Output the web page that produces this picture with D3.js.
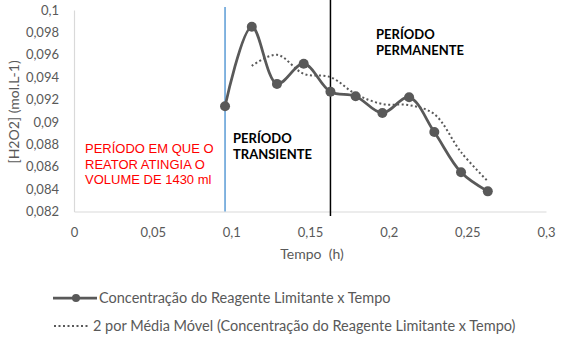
<!DOCTYPE html>
<html><head><meta charset="utf-8">
<script src="https://cdn.jsdelivr.net/npm/d3@7"></script>
<style>
html,body{margin:0;padding:0;background:#fff;}
svg{display:block;}
</style></head>
<body>
<script>
// ---- data ----
const times = [0.096, 0.113, 0.129, 0.146, 0.163, 0.179, 0.196, 0.213, 0.229, 0.246, 0.263];
const conc  = [0.0914, 0.0985, 0.0934, 0.0952, 0.0927, 0.0923, 0.0908, 0.0922, 0.0891, 0.0855, 0.0838];
const maTimes = [0.113, 0.129, 0.146, 0.163, 0.179, 0.196, 0.213, 0.229, 0.246, 0.263];
const maVals  = [0.0950, 0.0960, 0.0943, 0.0940, 0.0925, 0.0916, 0.0915, 0.0907, 0.0873, 0.0847];
const xTicks = [0, 0.05, 0.1, 0.15, 0.2, 0.25, 0.3];
const yTicks = [0.082, 0.084, 0.086, 0.088, 0.09, 0.092, 0.094, 0.096, 0.098, 0.1];
const fillTime = 0.096;      // blue marker line
const steadyTime = 0.163;    // black marker line
const seriesNames = ["Concentração do Reagente Limitante x Tempo",
                     "2 por Média Móvel (Concentração do Reagente Limitante x Tempo)"];
const redLabel = ["PERÍODO EM QUE O", "REATOR ATINGIA O", "VOLUME DE 1430 ml"];
const transLabel = ["PERÍODO", "TRANSIENTE"];
const permLabel = ["PERÍODO", "PERMANENTE"];

// ---- layout ----
const W = 573, H = 361;
const x = d3.scaleLinear().domain([0, 0.3]).range([74, 546]);
const y = d3.scaleLinear().domain([0.082, 0.1]).range([211.5, 10]);
const fmt = d => d3.format("")(+d.toFixed(3)).replace(".", ",");
const grey = "#595959";
const font = "Lato, 'Open Sans', sans-serif";

const svg = d3.select("body").append("svg").attr("width", W).attr("height", H);

// axes
const xAxis = svg.append("g").attr("transform", `translate(0,${y(0.082)})`)
  .call(d3.axisBottom(x).tickValues(xTicks).tickSize(0).tickPadding(16).tickFormat(fmt));
xAxis.select(".domain").attr("stroke", "#d9d9d9").attr("stroke-width", 1.2);
xAxis.selectAll("text").attr("fill", grey).attr("font-size", 13).attr("font-family", font);

const yAxis = svg.append("g").attr("transform", `translate(${x(0)},0)`)
  .call(d3.axisLeft(y).tickValues(yTicks).tickSize(0).tickPadding(15).tickFormat(fmt));
yAxis.select(".domain").attr("stroke", "#d9d9d9").attr("stroke-width", 1.2);
yAxis.selectAll("text").attr("fill", grey).attr("font-size", 13).attr("font-family", font);

// axis titles
svg.append("text").attr("x", 312).attr("y", 259).attr("text-anchor", "middle")
  .attr("fill", grey).attr("font-size", 14).attr("font-family", font)
  .attr("xml:space", "preserve").style("white-space", "pre").text("Tempo  (h)");
svg.append("text").attr("transform", `translate(19,112) rotate(-90)`).attr("text-anchor", "middle")
  .attr("fill", grey).attr("font-size", 14).attr("font-family", font).text("[H2O2] (mol.L-1)");

// red annotation with white box
svg.append("rect").attr("x", 76).attr("y", 120).attr("width", 145).attr("height", 33).attr("fill", "#fff");
svg.append("g").selectAll("text").data(redLabel).join("text")
  .attr("x", 85).attr("y", (d, i) => 153 + i * 15.5)
  .attr("fill", "#ff0000").attr("font-size", 13).attr("font-family", "'Liberation Sans', Arial, sans-serif")
  .text(d => d);

// vertical marker lines
svg.append("line").attr("x1", x(fillTime)).attr("x2", x(fillTime)).attr("y1", 7).attr("y2", y(0.082))
  .attr("stroke", "#5b9bd5").attr("stroke-width", 1.5);
svg.append("line").attr("x1", x(steadyTime)).attr("x2", x(steadyTime)).attr("y1", 0).attr("y2", 216)
  .attr("stroke", "#000").attr("stroke-width", 1.5);

// period labels
svg.append("g").selectAll("text").data(transLabel).join("text")
  .attr("x", 233).attr("y", (d, i) => 143 + i * 16)
  .attr("fill", "#000").attr("font-weight", "bold").attr("font-size", 13).attr("font-family", font)
  .text(d => d);
svg.append("g").selectAll("text").data(permLabel).join("text")
  .attr("x", 376).attr("y", (d, i) => 39 + i * 16)
  .attr("fill", "#000").attr("font-weight", "bold").attr("font-size", 13).attr("font-family", font)
  .text(d => d);

// moving average (dotted)
const maData = maTimes.map((t, i) => [t, maVals[i]]);
svg.append("path").datum(maData)
  .attr("d", d3.line().x(d => x(d[0])).y(d => y(d[1])).curve(d3.curveCatmullRom.alpha(0.5)))
  .attr("fill", "none").attr("stroke", grey).attr("stroke-width", 2).attr("stroke-dasharray", "2,2.5");

// main series
const data = times.map((t, i) => [t, conc[i]]);
svg.append("path").datum(data)
  .attr("d", d3.line().x(d => x(d[0])).y(d => y(d[1])).curve(d3.curveCatmullRom.alpha(0.5)))
  .attr("fill", "none").attr("stroke", grey).attr("stroke-width", 2.75);
svg.append("g").selectAll("circle").data(data).join("circle")
  .attr("cx", d => x(d[0])).attr("cy", d => y(d[1])).attr("r", 5).attr("fill", grey);

// legend
const lg = svg.append("g");
lg.append("line").attr("x1", 53).attr("x2", 97).attr("y1", 298).attr("y2", 298)
  .attr("stroke", grey).attr("stroke-width", 2.75);
lg.append("circle").attr("cx", 76).attr("cy", 298).attr("r", 4).attr("fill", grey);
lg.append("line").attr("x1", 54).attr("x2", 89).attr("y1", 326).attr("y2", 326)
  .attr("stroke", grey).attr("stroke-width", 2).attr("stroke-dasharray", "2,2.5");
lg.selectAll("text").data(seriesNames).join("text")
  .attr("x", (d, i) => i === 0 ? 99 : 93).attr("y", (d, i) => 303 + i * 28)
  .attr("fill", grey).attr("font-size", 14.5).attr("font-family", font).text(d => d);
</script>
</body></html>
